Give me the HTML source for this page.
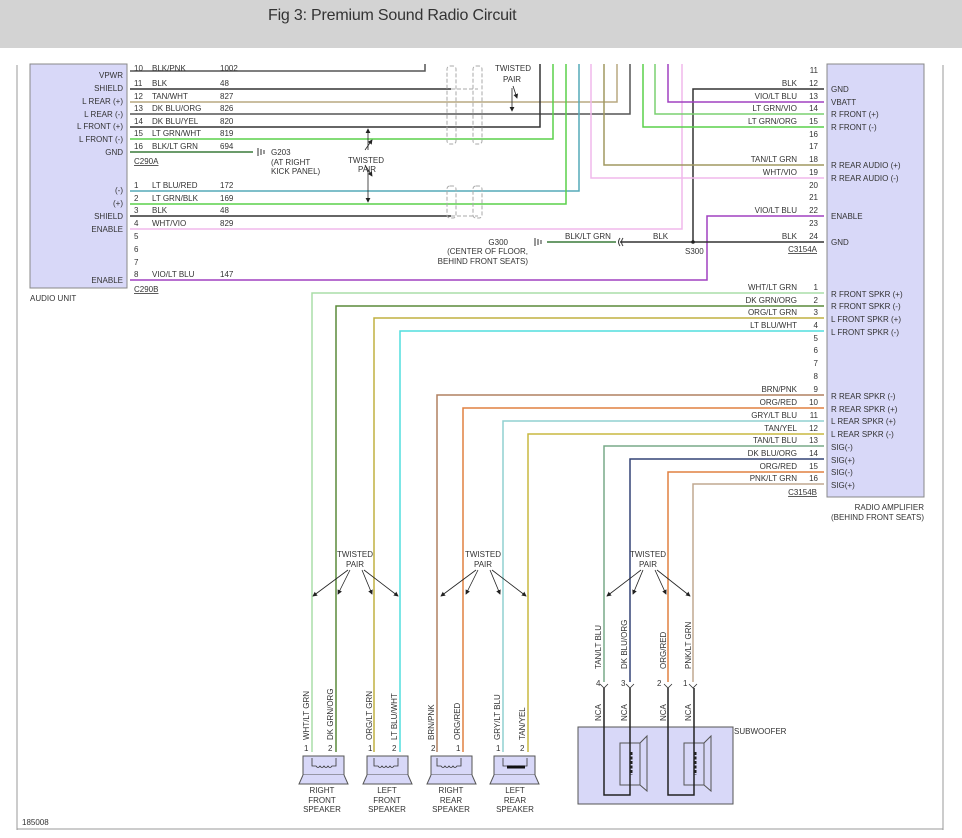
<!DOCTYPE html>
<html><head><meta charset="utf-8"><style>
html,body{margin:0;padding:0;background:#fff;width:962px;height:838px;overflow:hidden}
#hdr{position:absolute;left:0;top:0;width:962px;height:48px;background:#d3d3d3}
#hdr span{position:absolute;left:268px;top:7px;font:16px "Liberation Sans",sans-serif;letter-spacing:-0.2px;color:#333}
svg{position:absolute;left:0;top:0}
text{font-family:"Liberation Sans",sans-serif;font-size:8px;fill:#333}
</style></head><body>
<div id="hdr"><span>Fig 3: Premium Sound Radio Circuit</span></div>
<svg width="962" height="838" viewBox="0 0 962 838">
<defs><marker id="ah" markerWidth="6" markerHeight="6" refX="5" refY="3" orient="auto"><path d="M0,0 L6,3 L0,6z" fill="#222"/></marker></defs>
<g stroke="#999" fill="none"><line x1="17" y1="65" x2="17" y2="830"/><line x1="943" y1="65" x2="943" y2="830"/><line x1="17" y1="829" x2="943" y2="829"/></g>
<rect x="30" y="64" width="97" height="224" fill="#d8d8f8" stroke="#888"/>
<rect x="827" y="64" width="97" height="433" fill="#d8d8f8" stroke="#888"/>
<g fill="none" stroke-width="1.5">
<path d="M130,71H425V64" stroke="#555"/>
<path d="M130,89H451" stroke="#333"/>
<path d="M130,102H617V64" stroke="#b8a880"/>
<path d="M130,114H630V64" stroke="#555"/>
<path d="M130,127H540V64" stroke="#333"/>
<path d="M130,139H553V64" stroke="#5ad04a"/>
<path d="M130,152H253" stroke="#3a7a3a"/>
<path d="M130,191H579V64" stroke="#55aab8"/>
<path d="M130,204H566V64" stroke="#5ad04a"/>
<path d="M130,216H451" stroke="#333"/>
<path d="M130,229H682V64" stroke="#f0b8ec"/>
<path d="M130,280H707V216H824" stroke="#a040c0"/>
<path d="M824,89H693V242" stroke="#333"/>
<path d="M824,102H668V64" stroke="#a040c0"/>
<path d="M824,114H655V64" stroke="#7ad070"/>
<path d="M824,127H643V64" stroke="#5ad04a"/>
<path d="M824,165H604V64" stroke="#a09860"/>
<path d="M824,178H591V64" stroke="#f0b8ec"/>
<path d="M824,242H620" stroke="#333"/>
<path d="M616,242H547" stroke="#3a7a3a"/>
<path d="M824,293H312V752" stroke="#aadda8"/>
<path d="M824,306H336V752" stroke="#5a8a3a"/>
<path d="M824,318H374V752" stroke="#c0b040"/>
<path d="M824,331H400V752" stroke="#50dede"/>
<path d="M824,395H437V752" stroke="#b08060"/>
<path d="M824,408H463V752" stroke="#e08040"/>
<path d="M824,421H503V752" stroke="#90d0d0"/>
<path d="M824,434H528V752" stroke="#c8b840"/>
<path d="M824,446H604V682" stroke="#78aa88"/>
<path d="M824,459H630V682" stroke="#334477"/>
<path d="M824,472H668V682" stroke="#e08040"/>
<path d="M824,484H693V682" stroke="#c0a890"/>
</g>
<g fill="none" stroke="#aaa" stroke-dasharray="4,2"><rect x="447" y="66" width="9" height="78" rx="3"/><rect x="473" y="66" width="9" height="78" rx="3"/><rect x="447" y="186" width="9" height="32" rx="3"/><rect x="473" y="186" width="9" height="32" rx="3"/><path d="M451,89H478M451,216H478"/></g>
<circle cx="693" cy="242" r="1.8" fill="#222"/>
<path d="M258,148v8M261,149v6M264,150v4M535,238v8M538,239v6M541,240v4" stroke="#333"/>
<path d="M620,238q-3,4 0,8M623,238q-3,4 0,8" stroke="#333" fill="none"/>
<g font-size="8">
<g text-anchor="end"><text x="123" y="78">VPWR</text><text x="123" y="91">SHIELD</text><text x="123" y="104">L REAR (+)</text><text x="123" y="117">L REAR (-)</text><text x="123" y="129">L FRONT (+)</text><text x="123" y="142">L FRONT (-)</text><text x="123" y="155">GND</text><text x="123" y="193">(-)</text><text x="123" y="206">(+)</text><text x="123" y="219">SHIELD</text><text x="123" y="232">ENABLE</text><text x="123" y="283">ENABLE</text></g>
<text x="134" y="71">10</text><text x="152" y="71">BLK/PNK</text><text x="220" y="71">1002</text>
<text x="134" y="86">11</text><text x="152" y="86">BLK</text><text x="220" y="86">48</text>
<text x="134" y="99">12</text><text x="152" y="99">TAN/WHT</text><text x="220" y="99">827</text>
<text x="134" y="111">13</text><text x="152" y="111">DK BLU/ORG</text><text x="220" y="111">826</text>
<text x="134" y="124">14</text><text x="152" y="124">DK BLU/YEL</text><text x="220" y="124">820</text>
<text x="134" y="136">15</text><text x="152" y="136">LT GRN/WHT</text><text x="220" y="136">819</text>
<text x="134" y="149">16</text><text x="152" y="149">BLK/LT GRN</text><text x="220" y="149">694</text>
<text x="134" y="164" text-decoration="underline">C290A</text>
<text x="134" y="188">1</text><text x="152" y="188">LT BLU/RED</text><text x="220" y="188">172</text>
<text x="134" y="201">2</text><text x="152" y="201">LT GRN/BLK</text><text x="220" y="201">169</text>
<text x="134" y="213">3</text><text x="152" y="213">BLK</text><text x="220" y="213">48</text>
<text x="134" y="226">4</text><text x="152" y="226">WHT/VIO</text><text x="220" y="226">829</text>
<text x="134" y="239">5</text><text x="134" y="252">6</text><text x="134" y="265">7</text>
<text x="134" y="277">8</text><text x="152" y="277">VIO/LT BLU</text><text x="220" y="277">147</text>
<text x="134" y="292" text-decoration="underline">C290B</text>
<text x="30" y="301">AUDIO UNIT</text>
<text x="271" y="155">G203</text><text x="271" y="165">(AT RIGHT</text><text x="271" y="174">KICK PANEL)</text>
<text x="348" y="163">TWISTED</text><text x="358" y="172">PAIR</text>
<text x="495" y="71">TWISTED</text><text x="503" y="82">PAIR</text>
<text x="508" y="245" text-anchor="end">G300</text><text x="528" y="254" text-anchor="end">(CENTER OF FLOOR,</text><text x="528" y="264" text-anchor="end">BEHIND FRONT SEATS)</text>
<text x="565" y="239">BLK/LT GRN</text><text x="653" y="239">BLK</text><text x="685" y="254">S300</text>
<g text-anchor="end">
<text x="797" y="86">BLK</text><text x="797" y="99">VIO/LT BLU</text><text x="797" y="111">LT GRN/VIO</text><text x="797" y="124">LT GRN/ORG</text><text x="797" y="162">TAN/LT GRN</text><text x="797" y="175">WHT/VIO</text><text x="797" y="213">VIO/LT BLU</text><text x="797" y="239">BLK</text>
<text x="818" y="73">11</text><text x="818" y="86">12</text><text x="818" y="99">13</text><text x="818" y="111">14</text><text x="818" y="124">15</text><text x="818" y="137">16</text><text x="818" y="149">17</text><text x="818" y="162">18</text><text x="818" y="175">19</text><text x="818" y="188">20</text><text x="818" y="200">21</text><text x="818" y="213">22</text><text x="818" y="226">23</text><text x="818" y="239">24</text>
<text x="817" y="252" text-decoration="underline">C3154A</text>
<text x="797" y="290">WHT/LT GRN</text><text x="797" y="303">DK GRN/ORG</text><text x="797" y="315">ORG/LT GRN</text><text x="797" y="328">LT BLU/WHT</text><text x="797" y="392">BRN/PNK</text><text x="797" y="405">ORG/RED</text><text x="797" y="418">GRY/LT BLU</text><text x="797" y="431">TAN/YEL</text><text x="797" y="443">TAN/LT BLU</text><text x="797" y="456">DK BLU/ORG</text><text x="797" y="469">ORG/RED</text><text x="797" y="481">PNK/LT GRN</text>
<text x="818" y="290">1</text><text x="818" y="303">2</text><text x="818" y="315">3</text><text x="818" y="328">4</text><text x="818" y="341">5</text><text x="818" y="353">6</text><text x="818" y="366">7</text><text x="818" y="379">8</text><text x="818" y="392">9</text><text x="818" y="405">10</text><text x="818" y="418">11</text><text x="818" y="431">12</text><text x="818" y="443">13</text><text x="818" y="456">14</text><text x="818" y="469">15</text><text x="818" y="481">16</text>
<text x="817" y="495" text-decoration="underline">C3154B</text>
<text x="924" y="510">RADIO AMPLIFIER</text><text x="924" y="520">(BEHIND FRONT SEATS)</text>
</g>
<text x="831" y="92">GND</text><text x="831" y="105">VBATT</text><text x="831" y="117">R FRONT (+)</text><text x="831" y="130">R FRONT (-)</text><text x="831" y="168">R REAR AUDIO (+)</text><text x="831" y="181">R REAR AUDIO (-)</text><text x="831" y="219">ENABLE</text><text x="831" y="245">GND</text>
<text x="831" y="297">R FRONT SPKR (+)</text><text x="831" y="309">R FRONT SPKR (-)</text><text x="831" y="322">L FRONT SPKR (+)</text><text x="831" y="335">L FRONT SPKR (-)</text><text x="831" y="399">R REAR SPKR (-)</text><text x="831" y="412">R REAR SPKR (+)</text><text x="831" y="424">L REAR SPKR (+)</text><text x="831" y="437">L REAR SPKR (-)</text><text x="831" y="450">SIG(-)</text><text x="831" y="463">SIG(+)</text><text x="831" y="475">SIG(-)</text><text x="831" y="488">SIG(+)</text>
<g text-anchor="middle"><text x="355" y="557">TWISTED</text><text x="355" y="567">PAIR</text><text x="483" y="557">TWISTED</text><text x="483" y="567">PAIR</text><text x="648" y="557">TWISTED</text><text x="648" y="567">PAIR</text>
<text x="322" y="793">RIGHT</text><text x="322" y="803">FRONT</text><text x="322" y="812">SPEAKER</text>
<text x="387" y="793">LEFT</text><text x="387" y="803">FRONT</text><text x="387" y="812">SPEAKER</text>
<text x="451" y="793">RIGHT</text><text x="451" y="803">REAR</text><text x="451" y="812">SPEAKER</text>
<text x="515" y="793">LEFT</text><text x="515" y="803">REAR</text><text x="515" y="812">SPEAKER</text></g>
<text x="734" y="734">SUBWOOFER</text>
<text x="22" y="825" font-size="7">185008</text>
<g font-size="8">
<text transform="translate(309,740) rotate(-90)">WHT/LT GRN</text><text transform="translate(333,740) rotate(-90)">DK GRN/ORG</text><text transform="translate(372,740) rotate(-90)">ORG/LT GRN</text><text transform="translate(397,740) rotate(-90)">LT BLU/WHT</text><text transform="translate(434,740) rotate(-90)">BRN/PNK</text><text transform="translate(460,740) rotate(-90)">ORG/RED</text><text transform="translate(500,740) rotate(-90)">GRY/LT BLU</text><text transform="translate(525,740) rotate(-90)">TAN/YEL</text>
<text transform="translate(601,669) rotate(-90)">TAN/LT BLU</text><text transform="translate(627,669) rotate(-90)">DK BLU/ORG</text><text transform="translate(666,669) rotate(-90)">ORG/RED</text><text transform="translate(691,669) rotate(-90)">PNK/LT GRN</text>
<text transform="translate(601,721) rotate(-90)">NCA</text><text transform="translate(627,721) rotate(-90)">NCA</text><text transform="translate(666,721) rotate(-90)">NCA</text><text transform="translate(691,721) rotate(-90)">NCA</text>
</g>
<text x="596" y="686">4</text><text x="621" y="686">3</text><text x="657" y="686">2</text><text x="683" y="686">1</text>
<text x="304" y="751">1</text><text x="328" y="751">2</text><text x="368" y="751">1</text><text x="392" y="751">2</text><text x="431" y="751">2</text><text x="456" y="751">1</text><text x="496" y="751">1</text><text x="520" y="751">2</text>
</g>
<g stroke="#222" stroke-width="0.8" fill="none" marker-end="url(#ah)">
<path d="M368,150V129"/><path d="M368,170V202"/><path d="M365,150L372,140"/><path d="M365,165L372,176"/>
<path d="M513,86L517,98"/><path d="M512,88V111"/>
<path d="M348,570L313,596"/><path d="M350,570L338,594"/><path d="M362,570L372,594"/><path d="M364,570L398,596"/>
<path d="M476,570L441,596"/><path d="M478,570L466,594"/><path d="M490,570L500,594"/><path d="M492,570L526,596"/>
<path d="M641,570L607,596"/><path d="M643,570L633,594"/><path d="M655,570L666,594"/><path d="M657,570L690,596"/>
</g>
<g fill="#d8d8f8" stroke="#555">
<rect x="303" y="756" width="41" height="19"/><path d="M303,775L299,784H348L344,775"/>
<rect x="367" y="756" width="41" height="19"/><path d="M367,775L363,784H412L408,775"/>
<rect x="431" y="756" width="41" height="19"/><path d="M431,775L427,784H476L472,775"/>
<rect x="494" y="756" width="41" height="19"/><path d="M494,775L490,784H539L535,775"/>
<rect x="578" y="727" width="155" height="77"/>
<rect x="620" y="743" width="20" height="42"/><path d="M640,743L647,736V791L640,785z"/>
<rect x="684" y="743" width="20" height="42"/><path d="M704,743L711,736V791L704,785z"/>
</g>
<g stroke="#333" fill="none" stroke-width="0.8">
<path d="M312,758v8h4q2,3 4,0q2,3 4,0q2,3 4,0q2,3 4,0h4v-8"/>
<path d="M374,758v8h4q2,3 4,0q2,3 4,0q2,3 4,0q2,3 4,0h4v-8"/>
<path d="M437,758v8h4q2,3 4,0q2,3 4,0q2,3 4,0q2,3 4,0h4v-8"/>
<path d="M503,758v8h4q2,3 4,0q2,3 4,0q2,3 4,0q2,3 4,0h4v-8"/>
<path d="M600,684l4,4l4,-4M626,684l4,4l4,-4M664,684l4,4l4,-4M689,684l4,4l4,-4"/>
</g>
<path d="M507,767h18" stroke="#111" stroke-width="3"/>
<g stroke="#222" stroke-width="1.5" fill="none"><path d="M604,688V795H630V688"/><path d="M668,688V795H694V688"/></g>
<g stroke="#222" stroke-width="3" stroke-dasharray="3,1.5"><path d="M631,752V775M695,752V775"/></g>
</svg>
</body></html>
